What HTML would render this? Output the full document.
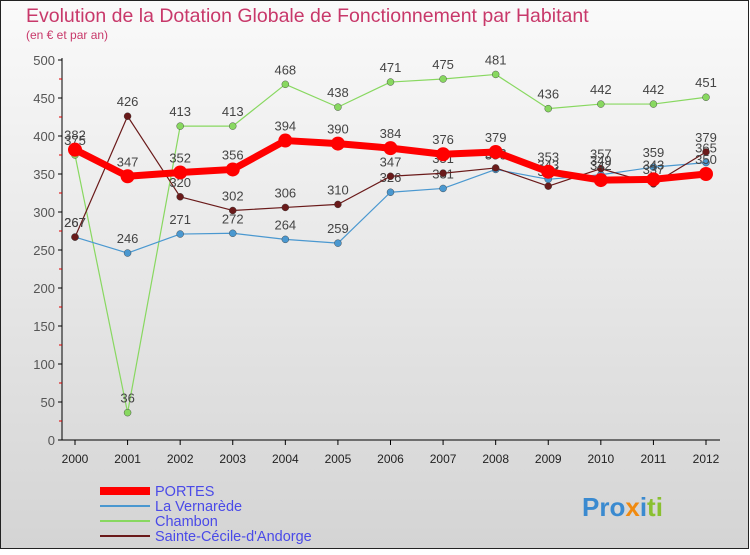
<!DOCTYPE html>
<html><head><meta charset="utf-8"><style>
body{margin:0;width:750px;height:550px;overflow:hidden;font-family:"Liberation Sans",sans-serif}
</style></head><body>
<svg width="750" height="550" xmlns="http://www.w3.org/2000/svg">
<defs><linearGradient id="bg" x1="0" y1="0" x2="0" y2="1"><stop offset="0" stop-color="#fafafa"/><stop offset="1" stop-color="#d4d4d4"/></linearGradient></defs>
<rect x="0.5" y="0.5" width="748" height="548" fill="url(#bg)" stroke="#222"/>
<text x="26" y="22" font-size="19.5" fill="#c8386a">Evolution de la Dotation Globale de Fonctionnement par Habitant</text>
<text x="26" y="39" font-size="12" fill="#c8386a">(en € et par an)</text>
<g id="axes"></g><g id="series"></g><g id="legend"></g>
<text x="582" y="516" font-size="26" font-weight="bold" fill="#3a8ad0">Pro<tspan fill="#f08a10">x</tspan><tspan fill="#3a8ad0">i</tspan><tspan fill="#8ac030">ti</tspan></text>
</svg>
<script>
const years=[2000,2001,2002,2003,2004,2005,2006,2007,2008,2009,2010,2011,2012];
const yTicks=[0,50,100,150,200,250,300,350,400,450,500];
const portes=[382,347,352,356,394,390,384,376,379,353,342,343,350];
const vernarede=[267,246,271,272,264,259,326,331,356,343,349,359,365];
const chambon=[375,36,413,413,468,438,471,475,481,436,442,442,451];
const sainteCecile=[267,426,320,302,306,310,347,351,358,334,357,337,379];
const NS="http://www.w3.org/2000/svg";
const X=i=>75+i*(706-75)/12, Y=v=>440-v*0.76;
function mk(t,a,p){const e=document.createElementNS(NS,t);for(const k in a)e.setAttribute(k,a[k]);p.appendChild(e);return e;}
const ax=document.getElementById('axes');
let l=mk('line',{x1:62,y1:58,x2:62,y2:440,stroke:'#000'},ax);


l=mk('line',{x1:62,y1:440,x2:720,y2:440,stroke:'#000'},ax);


yTicks.forEach(v=>{
 mk('line',{x1:58,x2:62,y1:Y(v),y2:Y(v),stroke:'#000'},ax);
 if(v<500) mk('line',{x1:59,x2:62,y1:Y(v+25),y2:Y(v+25),stroke:'#d00'},ax);
 const t=mk('text',{x:55,y:Y(v)+5,'text-anchor':'end','font-size':13,fill:'#555'},ax);t.textContent=v;
 
 
});
years.forEach((y,i)=>{
 mk('line',{x1:X(i),x2:X(i),y1:440,y2:445,stroke:'#000'},ax);
 const t=mk('text',{x:X(i),y:463,'text-anchor':'middle','font-size':12,fill:'#222'},ax);t.textContent=y;
 
 
});
const S=[
 {n:'Chambon',d:chambon,c:'#88d860',w:1.2,r:3.5,k:'series-chambon'},
 {n:'La Vernarède',d:vernarede,c:'#4a98d0',w:1.2,r:3.5,k:'series-la-vernarede'},
 {n:'Sainte-Cécile-d\'Andorge',d:sainteCecile,c:'#6a1a1a',w:1.2,r:3.5,k:'series-sainte-cecile'},
 {n:'PORTES',d:portes,c:'#f00',w:7,r:7,k:'series-portes'}];
const sg=document.getElementById('series');
S.forEach(s=>{
 const g=mk('g',{},sg);
 
 
 mk('polyline',{points:s.d.map((v,i)=>X(i)+','+Y(v)).join(' '),fill:'none',stroke:s.c,'stroke-width':s.w,'stroke-linejoin':'round'},g);
 s.d.forEach((v,i)=>{
  const c=mk('circle',{cx:X(i),cy:Y(v),r:s.r,fill:s.c,stroke:s.w<2?'#333':'none','stroke-width':0.4},g);
  
  
  const t=mk('text',{x:X(i),y:Y(v)-10,'text-anchor':'middle','font-size':13,fill:'#444'},g);t.textContent=v;
  
  
 });
});
const lg=document.getElementById('legend');
[S[3],S[1],S[0],S[2]].forEach((s,i)=>{
 const y=491+i*15;
 const g=mk('g',{},lg);
 
 
 mk('line',{x1:100,x2:150,y1:y,y2:y,stroke:s.c,'stroke-width':s.w<2?2:8},g);
 const t=mk('text',{x:155,y:y+5,'font-size':14.5,fill:'#4a4ae8'},g);t.textContent=s.n;
});
</script>
</body></html>
